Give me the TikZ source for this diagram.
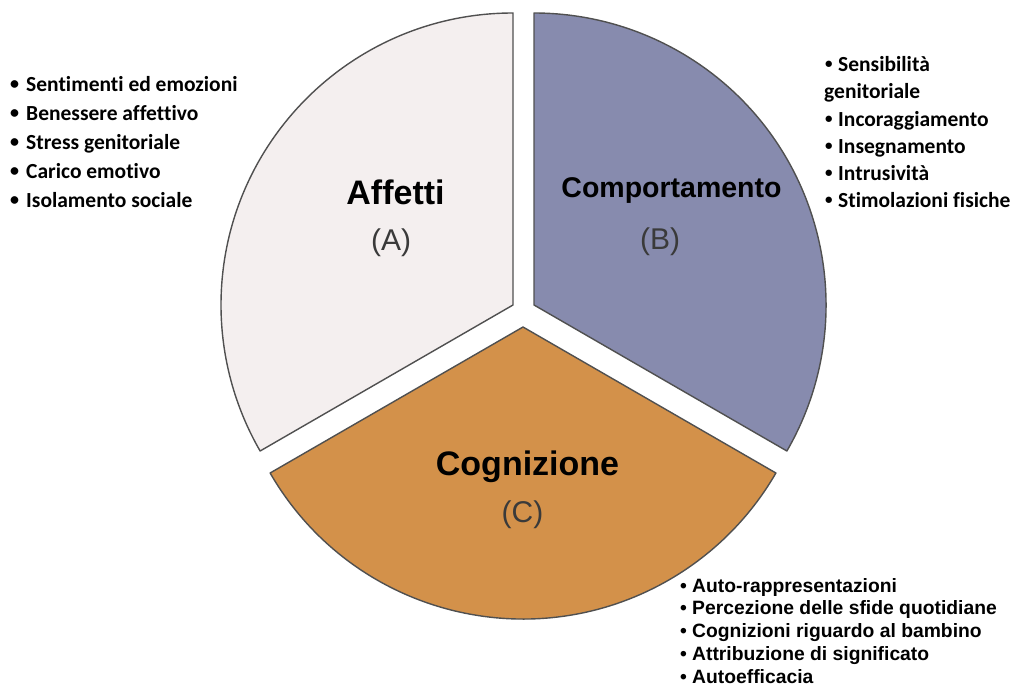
\documentclass[tikz,border=0pt]{standalone}
\usepackage{fontspec}
\setmainfont{Liberation Sans}
\newfontfamily\calibri[Ligatures=NoCommon]{Carlito}
\definecolor{affcol}{HTML}{F4EFEF}
\definecolor{compcol}{HTML}{878BAE}
\definecolor{cogcol}{HTML}{D3914A}
\definecolor{rimcol}{HTML}{505050}
\definecolor{subcol}{HTML}{3A3A3A}
\newcommand{\PieR}{292}
\newcommand{\bul}[3]{\makebox[#1][l]{\raisebox{#3}{\fontsize{#2}{#2}\selectfont•}}}
\tikzset{
  slice/.style={draw=rimcol,line width=1.4pt,line join=round},
  title/.style={anchor=base,inner sep=0pt,font=\bfseries\fontsize{34}{40}\selectfont},
  tag/.style={anchor=base,inner sep=0pt,text=subcol,font=\fontsize{30}{36}\selectfont},
  itemA/.style={anchor=base west,inner sep=0pt,font=\calibri\bfseries\fontsize{21.5}{26}\selectfont},
  itemC/.style={anchor=base west,inner sep=0pt,font=\bfseries\fontsize{19.3}{23}\selectfont}
}

\begin{document}
\begin{tikzpicture}[x=1pt,y=1pt]
  \useasboundingbox (0,0) rectangle (1016,686);
  \coordinate (A) at (513,381);
  \coordinate (B) at (534,381);
  \coordinate (C) at (523,359);

  % the three slices
  \draw[slice,fill=affcol] (A) -- ++(90:\PieR pt)
    arc[start angle=90,end angle=210,radius=\PieR pt] -- cycle;
  \draw[slice,fill=compcol] (B) -- ++(-30:\PieR pt)
    arc[start angle=-30,end angle=90,radius=\PieR pt] -- cycle;
  \draw[slice,fill=cogcol] (C) -- ++(210:\PieR pt)
    arc[start angle=210,end angle=330,radius=\PieR pt] -- cycle;

  \node[title] (affT) at (395.5,481) {Affetti};
  \node[tag] (affL) at (391,435) {(A)};
  \node[title,font=\bfseries\fontsize{28.5}{34}\selectfont] (compT) at (671.5,488) {Comportamento};
  \node[tag] (compL) at (660,436) {(B)};
  \node[title] (cogT) at (527.5,211) {Cognizione};
  \node[tag] (cogL) at (522.5,164) {(C)};

  % lists
  \foreach \txt [count=\i] in {Sentimenti ed emozioni,Benessere affettivo,
      Stress genitoriale,Carico emotivo,Isolamento sociale}
    \node[itemA] (aff\i) at (10,{594-(\i-1)*29}) {\bul{16pt}{18}{2.5pt}\txt};

  \node[itemA] (comp0) at (825,614) {\bul{13pt}{15}{3pt}Sensibilità};
  \node[itemA] (comp1) at (824,587) {genitoriale};
  \foreach \txt [count=\i from 2] in {Incoraggiamento,Insegnamento,
      Intrusività,Stimolazioni fisiche}
    \node[itemA] (comp\i) at (825,{614-\i*27.2}) {\bul{13pt}{15}{3pt}\txt};

  \foreach \txt [count=\i] in {Auto-rappresentazioni,Percezione delle sfide quotidiane,
      Cognizioni riguardo al bambino,Attribuzione di significato,Autoefficacia}
    \node[itemC] (cog\i) at (680,{94-(\i-1)*22.9}) {\bul{12pt}{19.3}{0pt}\txt};
\end{tikzpicture}
\end{document}
